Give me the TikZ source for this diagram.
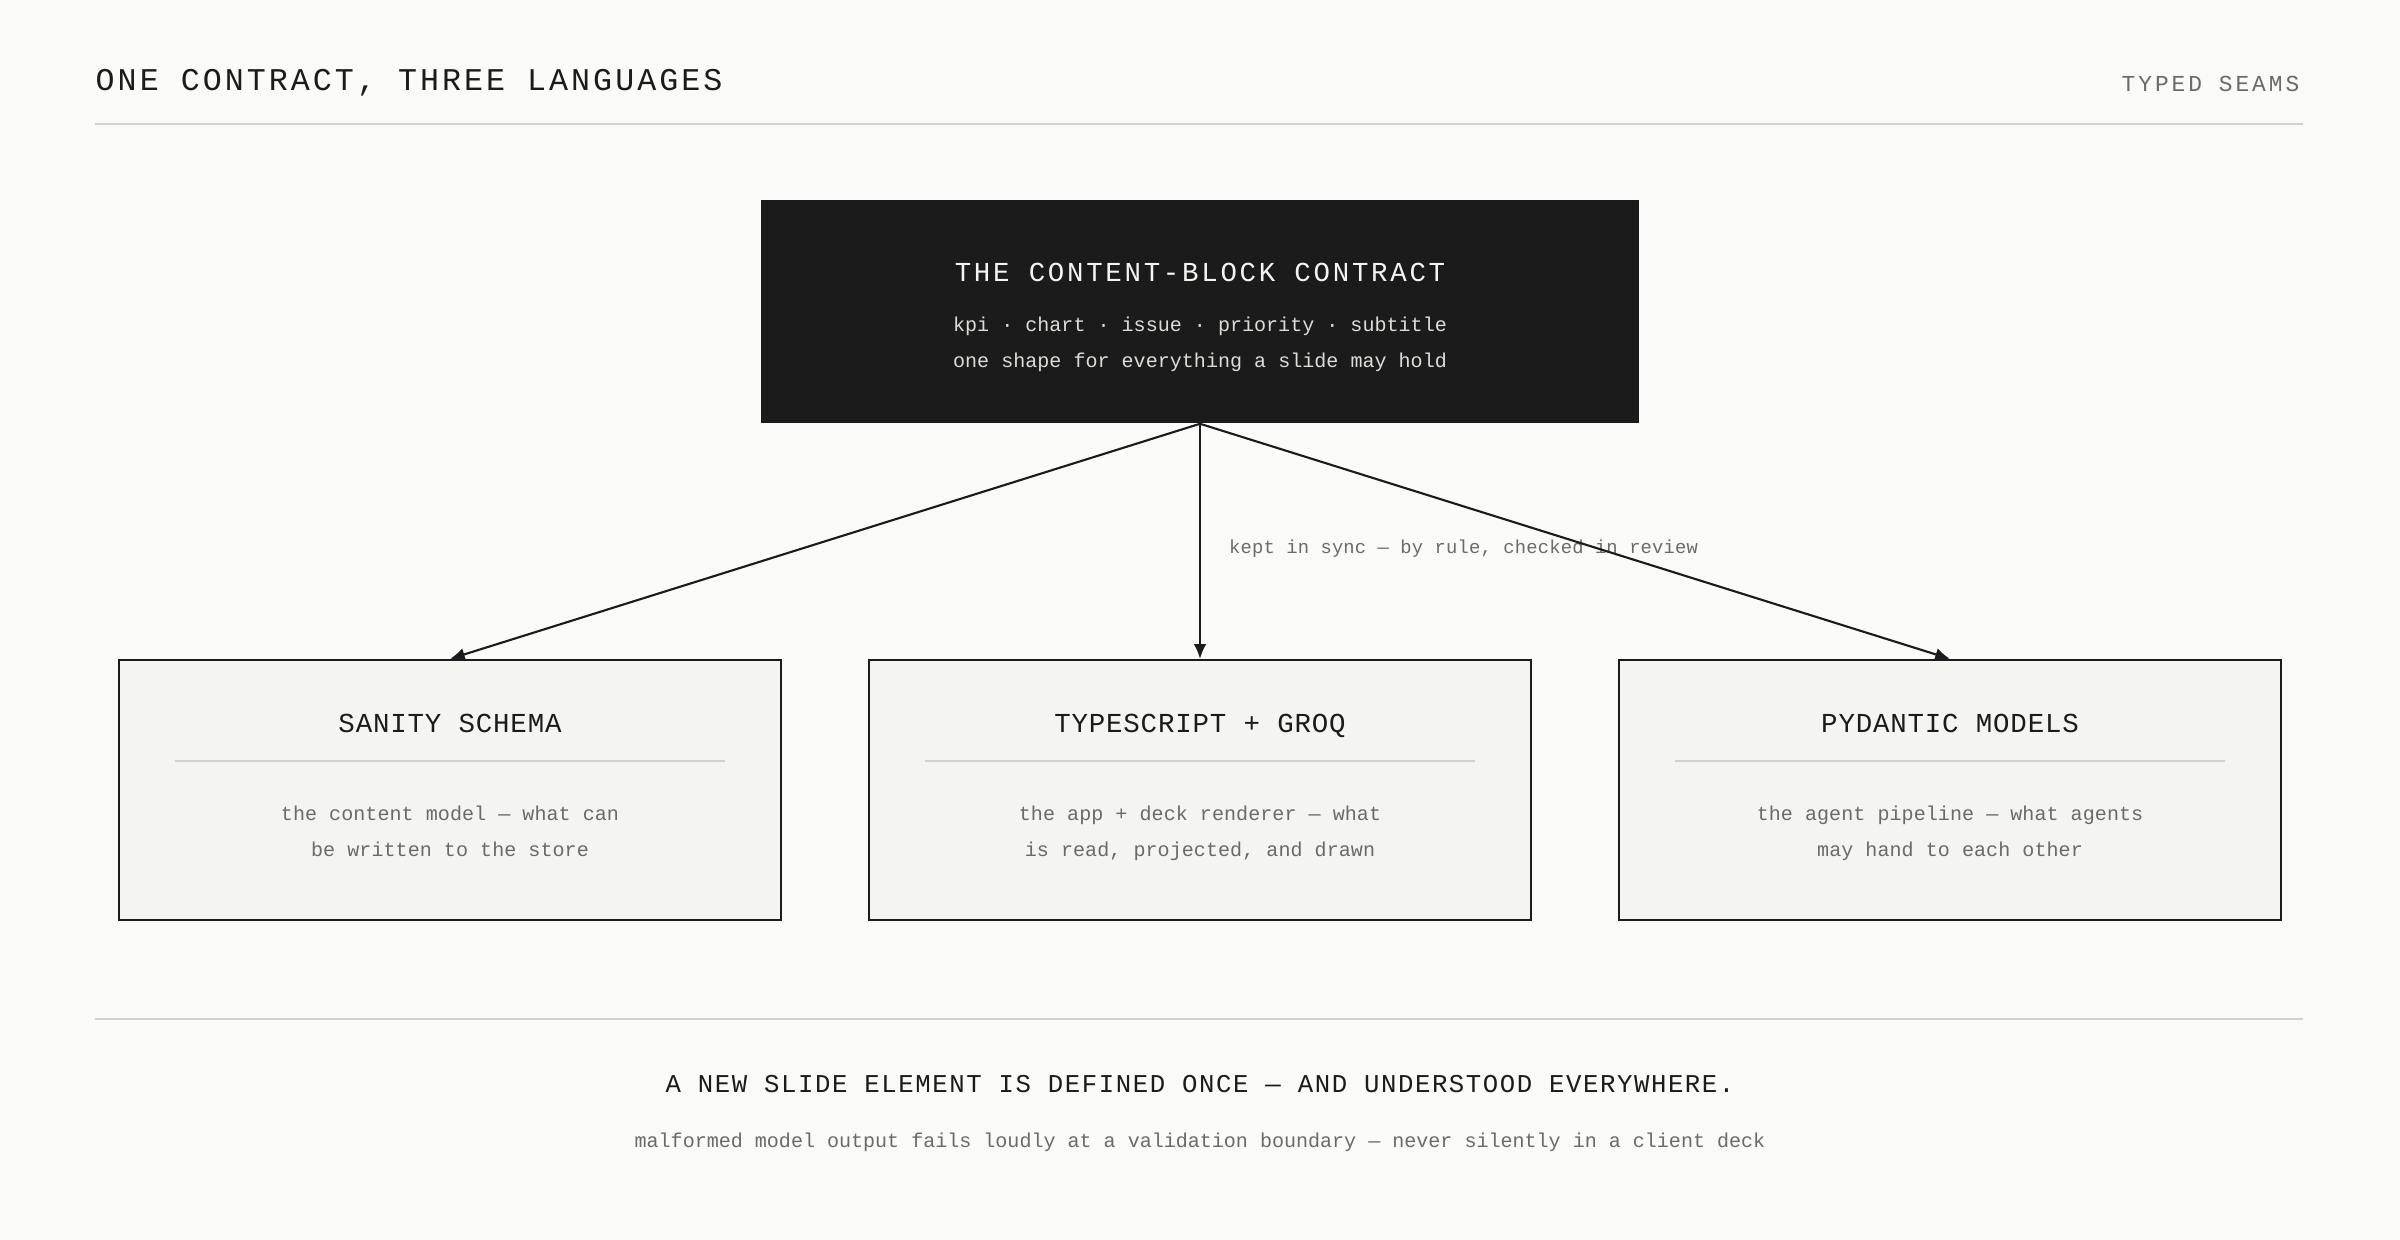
\documentclass[tikz,border=0pt]{standalone}
\usepackage{fontspec}
\setmainfont{Liberation Mono}
\usetikzlibrary{arrows.meta,calc}

\definecolor{paperbg}{HTML}{FAFAF8}
\definecolor{ink}{HTML}{1B1B1B}
\definecolor{cardfill}{HTML}{F4F4F0}
\definecolor{rulegray}{HTML}{D2D2CC}
\definecolor{muted}{HTML}{6B6B66}
\definecolor{softwhite}{HTML}{F4F4F0}
\definecolor{softgray}{HTML}{DCDCD8}

\begin{document}
\begin{tikzpicture}[x=0.01cm,y=-0.01cm]
    % ===================================
    % styles
    % ===================================
    \tikzset{
        pagetitle/.style={inner sep=0pt, text=ink,
            font={\fontsize{9}{11}\selectfont\addfontfeature{LetterSpace=9.6}}},
        tag/.style={inner sep=0pt, text=muted,
            font={\fontsize{6.5}{8}\selectfont\addfontfeature{LetterSpace=13}}},
        darkbox/.style={rectangle, fill=ink, minimum width=8.78cm, minimum height=2.23cm, inner sep=0pt},
        lightbox/.style={rectangle, fill=cardfill, draw=ink, line width=0.6pt,
            minimum width=6.62cm, minimum height=2.6cm, inner sep=0pt},
        darktitle/.style={inner sep=0pt, anchor=base, text=softwhite,
            font={\fontsize{7.8}{9}\selectfont\addfontfeature{LetterSpace=9.9}}},
        darktext/.style={inner sep=0pt, anchor=base, text=softgray,
            font={\fontsize{5.7}{7}\selectfont\addfontfeature{LetterSpace=0.1}}},
        boxtitle/.style={inner sep=0pt, anchor=base, text=ink,
            font={\fontsize{7.8}{9}\selectfont\addfontfeature{LetterSpace=3}}},
        boxtext/.style={inner sep=0pt, anchor=base, text=muted,
            font={\fontsize{5.7}{7}\selectfont\addfontfeature{LetterSpace=0.3}}},
        link/.style={draw=ink, line width=0.6pt, -{Latex[length=4.2pt,width=3.6pt]}},
        thinrule/.style={draw=rulegray, line width=0.5pt}
    }
    % ===================================

    % background and page size
    \fill[paperbg] (0,0) rectangle (2400,1240);
    \useasboundingbox (0,0) rectangle (2400,1240);

    % 1. header
    \node[pagetitle, anchor=west] (title) at (95,83) {ONE CONTRACT, THREE LANGUAGES};
    \node[tag, anchor=east] (seams) at (2300,84) {TYPED SEAMS};
    \draw[thinrule] (95,124) -- (2303,124);

    % 2. the contract block
    \node[darkbox] (contract) at (1200,311.5) {};
    \node[darktitle] (contract-title) at (1200,282) {THE CONTENT-BLOCK CONTRACT};
    \node[darktext] (contract-kinds) at (1200,332) {kpi · chart · issue · priority · subtitle};
    \node[darktext] (contract-shape) at (1200,368) {one shape for everything a slide may hold};

    % 3. the three languages
    \foreach \name/\cx/\head/\lineA/\lineB in {
        sanity/450/SANITY SCHEMA/{the content model — what can}/{be written to the store},
        typescript/1200/TYPESCRIPT + GROQ/{the app + deck renderer — what}/{is read, projected, and drawn},
        pydantic/1950/PYDANTIC MODELS/{the agent pipeline — what agents}/{may hand to each other}} {
        \node[lightbox] (\name) at (\cx,790) {};
        \node[boxtitle] (\name-title) at (\cx,732) {\head};
        \draw[thinrule] ($(\name.north west)+(57,102)$) -- ($(\name.north east)+(-57,102)$);
        \node[boxtext] (\name-lineA) at (\cx,820) {\lineA};
        \node[boxtext] (\name-lineB) at (\cx,856) {\lineB};
    }

    % 4. arrows from the contract
    \draw[link] (contract.south) -- (sanity.north);
    \draw[link] (contract.south) -- node[pos=0.53, anchor=west, xshift=0.28cm, inner sep=0pt,
        text=muted, font={\fontsize{5.35}{7}\selectfont\addfontfeature{LetterSpace=1}}] (sync)
        {kept in sync — by rule, checked in review} (typescript.north);
    \draw[link] (contract.south) -- (pydantic.north);

    % 5. footer
    \draw[thinrule] (95,1019) -- (2303,1019);
    \node[boxtitle, font={\fontsize{7.3}{9}\selectfont\addfontfeature{LetterSpace=6.1}}] (claim) at (1200,1092)
        {A NEW SLIDE ELEMENT IS DEFINED ONCE — AND UNDERSTOOD EVERYWHERE.};
    \node[boxtext, font={\fontsize{5.7}{7}\selectfont}] (note) at (1200,1147)
        {malformed model output fails loudly at a validation boundary — never silently in a client deck};
\end{tikzpicture}
\end{document}
